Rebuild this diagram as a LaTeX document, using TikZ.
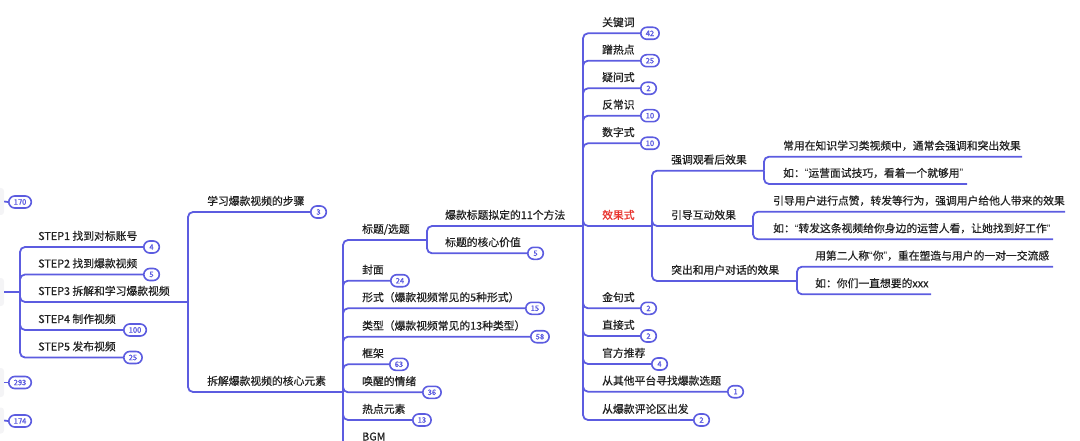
\documentclass[tikz,border=0pt]{standalone}
\usepackage{fontspec}
\newfontfamily\cjk[FakeBold=0.6]{Noto Sans CJK SC}
\newfontfamily\cjkb[FakeBold=1.6]{Noto Sans CJK SC}
\newfontfamily\lat{Liberation Sans}
\newcommand\mmlq{{\lat “}}
\newcommand\mmrq{{\lat ”}}
\definecolor{mmblue}{RGB}{92,92,224}
\definecolor{mmtext}{RGB}{34,34,34}
\definecolor{mmred}{RGB}{232,50,45}
\definecolor{mmgray}{RGB}{244,244,246}
\tikzset{
  conn/.style={draw=mmblue, line width=1.8pt, rounded corners=5pt},
  topic/.style={anchor=base west, inner sep=0pt, text=mmtext, font=\cjk\fontsize{10.8}{12}\selectfont},
  badge/.style={draw=mmblue, line width=1.6pt, fill=white, rounded corners=6pt,
    minimum height=12pt, minimum width=15.5pt, inner xsep=5pt, inner ysep=0pt,
    text=mmblue, font=\cjkb\fontsize{7.5}{7.5}\selectfont, anchor=west},
  graybox/.style={fill=mmgray, rounded corners=3pt, minimum width=14pt, inner sep=0pt},
}
\begin{document}
\begin{tikzpicture}[x=1pt,y=-1pt]
\useasboundingbox (0,0) rectangle (1080,441);
\clip (0,0) rectangle (1080,441);
% ---- collapsed nodes at left edge
\node[graybox, minimum height=27pt] (g1) at (-3,201.5) {};
\node[graybox, minimum height=28pt] (g2) at (-3,292) {};
\node[graybox, minimum height=29pt] (g3) at (-3,382.5) {};
\node[graybox, minimum height=26pt] (g4) at (-3,420.5) {};
\node[badge] (b170) at (8,202) {170};
\node[badge] (b293) at (8,382.5) {293};
\node[badge] (b174) at (8,421) {174};
\draw[conn] (g1.east) -- (b170.west);
\draw[conn] (g3.east) -- (b293.west);
\draw[conn] (g4.east) -- (b174.west);
% ---- STEP group
\coordinate (c0) at (20,292);
\draw[conn] (g2.east) -- (c0);
\node[topic] (s1) at (38,240) {STEP1 找到对标账号};
\node[topic] (s2) at (38,267.5) {STEP2 找到爆款视频};
\node[topic] (s3) at (38,295) {STEP3 拆解和学习爆款视频};
\node[topic] (s4) at (38,323) {STEP4 制作视频};
\node[topic] (s5) at (38,350.5) {STEP5 发布视频};
\node[badge] (bs1) at (143,247) {4};
\node[badge] (bs2) at (143,274.5) {5};
\node[badge] (bs4) at (123,330) {100};
\node[badge] (bs5) at (123,357.5) {25};
\coordinate (c1) at (188,302);
\draw[conn] (c0) |- (bs1.west);
\draw[conn] (c0) |- (bs2.west);
\draw[conn] (c0) |- (c1);
\draw[conn] (c0) |- (bs4.west);
\draw[conn] (c0) |- (bs5.west);
% ---- STEP3 children
\node[topic] (learn) at (207,205) {学习爆款视频的步骤};
\node[badge] (blearn) at (310,212) {3};
\node[topic] (core) at (207,385) {拆解爆款视频的核心元素};
\coordinate (c2) at (343,392);
\draw[conn] (c1) |- (blearn.west);
\draw[conn] (c1) |- (c2);
% ---- core elements
\node[topic] (title) at (362,233) {标题/选题};
\coordinate (c3) at (427,240);
\node[topic] (cover) at (362,273.7) {封面};
\node[badge] (bcover) at (390,280.7) {24};
\node[topic] (form) at (362,301.3) {形式（爆款视频常见的5种形式）};
\node[badge] (bform) at (525,308.3) {15};
\node[topic] (type) at (362,329.7) {类型（爆款视频常见的13种类型）};
\node[badge] (btype) at (530,336.7) {58};
\node[topic] (frame) at (362,357.3) {框架};
\node[badge] (bframe) at (389,364.3) {63};
\node[topic] (emo) at (362,385.3) {唤醒的情绪};
\node[badge] (bemo) at (422,392.3) {36};
\node[topic] (hotel) at (362,413) {热点元素};
\node[badge] (bhotel) at (412,420) {13};
\node[topic] (bgm) at (362,440.5) {BGM};
\coordinate (bgme) at (397,447.5);
\draw[conn] (c2) |- (c3);
\draw[conn] (c2) |- (bcover.west);
\draw[conn] (c2) |- (bform.west);
\draw[conn] (c2) |- (btype.west);
\draw[conn] (c2) |- (bframe.west);
\draw[conn] (c2) |- (bemo.west);
\draw[conn] (c2) |- (bhotel.west);
\draw[conn] (c2) |- (bgme);
% ---- title children
\node[topic] (methods) at (445,219) {爆款标题拟定的11个方法};
\coordinate (c4) at (583,226);
\node[topic] (value) at (445,246.3) {标题的核心价值};
\node[badge] (bvalue) at (527,253.3) {5};
\draw[conn] (c3) |- (c4);
\draw[conn] (c3) |- (bvalue.west);
% ---- 11 methods
\node[topic] (kw) at (602,26.3) {关键词};
\node[badge] (bkw) at (640,33.3) {42};
\node[topic] (hot) at (602,53.7) {蹭热点};
\node[badge] (bhot) at (640,60.7) {25};
\node[topic] (ques) at (602,81.3) {疑问式};
\node[badge] (bques) at (640,88.3) {2};
\node[topic] (anti) at (602,108.7) {反常识};
\node[badge] (banti) at (640,115.7) {10};
\node[topic] (num) at (602,136.3) {数字式};
\node[badge] (bnum) at (640,143.3) {10};
\node[topic, text=mmred] (eff) at (602,219) {效果式};
\coordinate (c5) at (652,226);
\node[topic] (gold) at (602,301.3) {金句式};
\node[badge] (bgold) at (640,308.3) {2};
\node[topic] (direct) at (602,329) {直接式};
\node[badge] (bdirect) at (640,336) {2};
\node[topic] (offi) at (602,357) {官方推荐};
\node[badge] (boffi) at (651,364) {4};
\node[topic] (other) at (602,384.7) {从其他平台寻找爆款选题};
\node[badge] (bother) at (727,391.7) {1};
\node[topic] (comm) at (602,413) {从爆款评论区出发};
\node[badge] (bcomm) at (693,420) {2};
\draw[conn] (c4) |- (bkw.west);
\draw[conn] (c4) |- (bhot.west);
\draw[conn] (c4) |- (bques.west);
\draw[conn] (c4) |- (banti.west);
\draw[conn] (c4) |- (bnum.west);
\draw[conn] (c4) |- (c5);
\draw[conn] (c4) |- (bgold.west);
\draw[conn] (c4) |- (bdirect.west);
\draw[conn] (c4) |- (boffi.west);
\draw[conn] (c4) |- (bother.west);
\draw[conn] (c4) |- (bcomm.west);
% ---- effect children
\node[topic] (e1) at (671,163.7) {强调观看后效果};
\coordinate (c6) at (764,170.7);
\node[topic] (e2) at (671,219) {引导互动效果};
\coordinate (c7) at (753,226);
\node[topic] (e3) at (671,274) {突出和用户对话的效果};
\coordinate (c8) at (797,281);
\draw[conn] (c5) |- (c6);
\draw[conn] (c5) |- (c7);
\draw[conn] (c5) |- (c8);
% ---- leaves
\node[topic] (l1) at (783,149.7) {常用在知识学习类视频中，通常会强调和突出效果};
\coordinate (l1e) at (1022,156.7);
\node[topic] (l2) at (783,177) {如：\mmlq 运营面试技巧，看着一个就够用\mmrq};
\coordinate (l2e) at (967,184);
\node[topic] (l3) at (773,204.7) {引导用户进行点赞，转发等行为，强调用户给他人带来的效果};
\coordinate (l3e) at (1065,211.7);
\node[topic] (l4) at (773,232.3) {如：\mmlq 转发这条视频给你身边的运营人看，让她找到好工作\mmrq};
\coordinate (l4e) at (1053,239.3);
\node[topic] (l5) at (815,259.7) {用第二人称\mmlq 你\mmrq，重在塑造与用户的一对一交流感};
\coordinate (l5e) at (1053,266.7);
\node[topic] (l6) at (815,287.3) {如：你们一直想要的xxx};
\coordinate (l6e) at (931,294.3);
\draw[conn] (c6) |- (l1e);
\draw[conn] (c6) |- (l2e);
\draw[conn] (c7) |- (l3e);
\draw[conn] (c7) |- (l4e);
\draw[conn] (c8) |- (l5e);
\draw[conn] (c8) |- (l6e);
\end{tikzpicture}
\end{document}
